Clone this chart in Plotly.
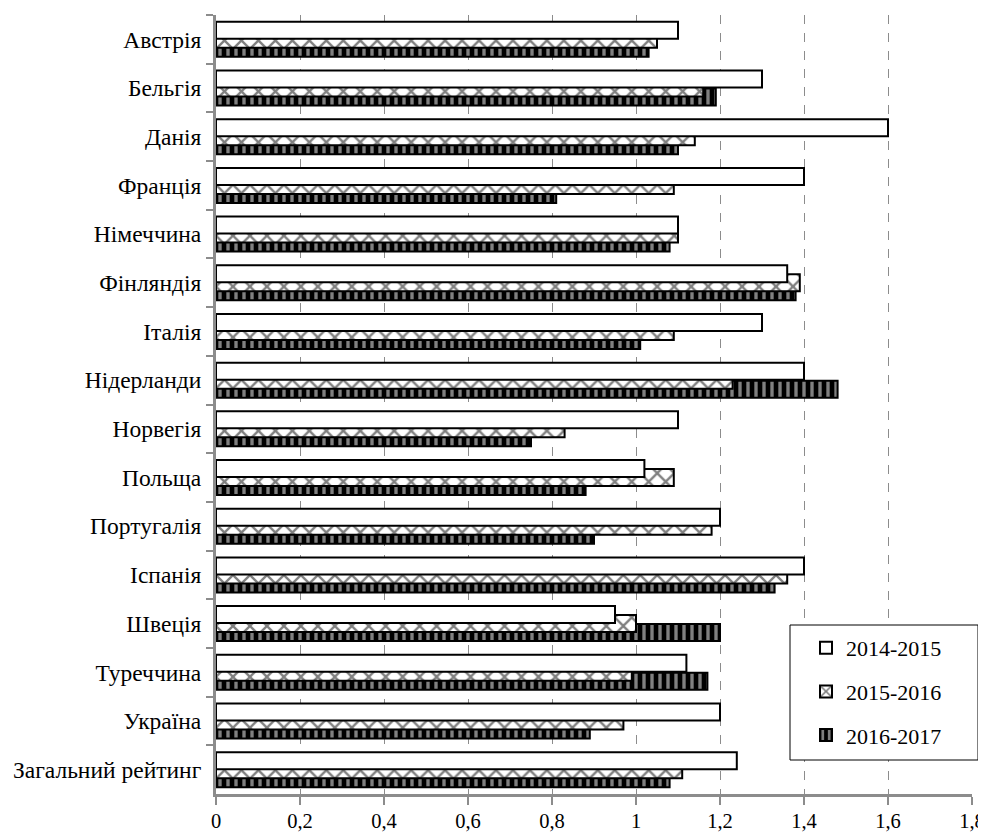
import plotly.graph_objects as go

categories = ["Австрія", "Бельгія", "Данія", "Франція", "Німеччина", "Фінляндія",
              "Італія", "Нідерланди", "Норвегія", "Польща", "Португалія", "Іспанія",
              "Швеція", "Туреччина", "Україна", "Загальний рейтинг"]

s2014_2015 = [1.10, 1.30, 1.60, 1.40, 1.10, 1.36, 1.30, 1.40, 1.10, 1.02, 1.20, 1.40,
              0.95, 1.12, 1.20, 1.24]
s2015_2016 = [1.05, 1.16, 1.14, 1.09, 1.10, 1.39, 1.09, 1.23, 0.83, 1.09, 1.18, 1.36,
              1.00, 0.99, 0.97, 1.11]
s2016_2017 = [1.03, 1.19, 1.10, 0.81, 1.08, 1.38, 1.01, 1.48, 0.75, 0.88, 0.90, 1.33,
              1.20, 1.17, 0.89, 1.08]

series_names = ["2014-2015", "2015-2016", "2016-2017"]
x_ticks = [0, 0.2, 0.4, 0.6, 0.8, 1.0, 1.2, 1.4, 1.6, 1.8]

FONT = "Liberation Serif, Times New Roman, serif"
GRAY = "#8c8c8c"
W = 0.35

fig = go.Figure()

# drawn bottom-to-top: 2016-2017, 2015-2016, 2014-2015 on top
fig.add_trace(go.Bar(
    y=categories, x=s2016_2017, orientation="h", name=series_names[2],
    width=W, offset=0.01, legendrank=3, legendgroup="c",
    marker=dict(color="black", line=dict(color="black", width=2),
                pattern=dict(shape="|", fgcolor="white", bgcolor="black",
                             size=8, solidity=0.42)),
))
fig.add_trace(go.Bar(
    y=categories, x=s2015_2016, orientation="h", name=series_names[1],
    width=W, offset=-0.175, legendrank=2, legendgroup="b",
    marker=dict(color="white", line=dict(color="black", width=2),
                pattern=dict(shape="x", fgcolor="black", bgcolor="white",
                             size=12, solidity=0.35)),
))
fig.add_trace(go.Bar(
    y=categories, x=s2014_2015, orientation="h", name=series_names[0],
    width=W, offset=-0.36, legendrank=1, legendgroup="a",
    marker=dict(color="white", line=dict(color="black", width=2)),
))

# legend frame (plot area spans 756 x 779 px)
fig.add_shape(type="rect", xref="paper", yref="paper",
              x0=(790 - 216) / 756, x1=(978 - 216) / 756,
              y0=(794 - 760) / 779, y1=(794 - 625) / 779,
              line=dict(color="black", width=1), fillcolor="white", layer="above")

# the page body adds an 8 px offset, so the figure is 8 px smaller
fig.update_layout(
    width=978, height=825,
    margin=dict(l=208, r=14, t=7, b=39),
    paper_bgcolor="white", plot_bgcolor="white",
    barmode="overlay",
    separators=", ",
    font=dict(family=FONT, size=22, color="black"),
    showlegend=True,
    legend=dict(
        x=(806 - 216) / 756, xanchor="left",
        y=(794 - 627) / 779, yanchor="top",
        bgcolor="rgba(0,0,0,0)", borderwidth=0,
        tracegroupgap=12,
        font=dict(family=FONT, size=22, color="black"),
        itemwidth=30,
    ),
    xaxis=dict(
        range=[0, 1.8], tickvals=x_ticks, automargin=False,
        showgrid=True, gridcolor=GRAY, griddash="dash", gridwidth=1,
        zeroline=False,
        showline=True, linecolor=GRAY, linewidth=3,
        ticks="outside", ticklen=8, tickwidth=2, tickcolor=GRAY,
        ticklabelstandoff=-2,
        tickfont=dict(family=FONT, size=20.5, color="black"),
    ),
    yaxis=dict(
        type="category", range=[15.5, -0.5], automargin=False,
        showgrid=False, zeroline=False,
        showline=True, linecolor=GRAY, linewidth=3,
        ticks="outside", tickson="boundaries", ticklen=7, tickwidth=2, tickcolor=GRAY,
        ticklabelstandoff=7,
        tickfont=dict(family=FONT, size=23.5, color="black"),
    ),
)

fig.write_html("out.html")
